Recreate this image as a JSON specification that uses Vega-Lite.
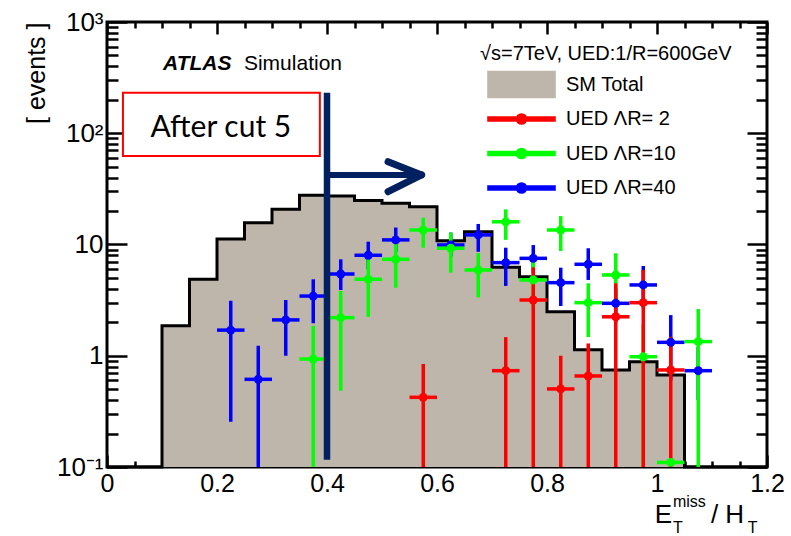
{
  "$schema": "https://vega.github.io/schema/vega-lite/v6.json",
  "width": 660,
  "height": 445,
  "autosize": {"type": "none"},
  "padding": {"left": 107, "top": 22, "right": 24, "bottom": 69},
  "background": "white",
  "config": {
    "view": {"stroke": "black", "strokeWidth": 3},
    "font": "Liberation Sans",
    "axis": {
      "grid": false,
      "domain": false,
      "tickColor": "black",
      "tickWidth": 2.5,
      "labelFont": "Liberation Sans",
      "labelFontSize": 25,
      "labelColor": "black",
      "labelFlush": false,
      "labelOverlap": false
    }
  },
  "datasets": {
    "hist": [
      {"lo": 0, "n": 0.1}, {"lo": 0.05, "n": 0.1},
      {"lo": 0.1, "n": 1.86}, {"lo": 0.15, "n": 4.87}, {"lo": 0.2, "n": 11.2},
      {"lo": 0.25, "n": 15.7}, {"lo": 0.3, "n": 20.7}, {"lo": 0.35, "n": 27.7},
      {"lo": 0.4, "n": 27.3}, {"lo": 0.45, "n": 24.8}, {"lo": 0.5, "n": 23.5},
      {"lo": 0.55, "n": 21.9}, {"lo": 0.6, "n": 10.8}, {"lo": 0.65, "n": 13.0},
      {"lo": 0.7, "n": 6.24}, {"lo": 0.75, "n": 5.14}, {"lo": 0.8, "n": 2.49},
      {"lo": 0.85, "n": 1.13}, {"lo": 0.9, "n": 0.745}, {"lo": 0.95, "n": 0.885},
      {"lo": 1.0, "n": 0.671}, {"lo": 1.05, "n": 0.1}, {"lo": 1.1, "n": 0.1},
      {"lo": 1.15, "n": 0.1}, {"lo": 1.2, "n": 0.1}
    ],
    "ued": [
      {"s": "UED ΛR=40", "x": 0.225, "lo": 0.2, "hi": 0.25, "n": 1.7, "elo": 0.255, "ehi": 3.12},
      {"s": "UED ΛR=40", "x": 0.275, "lo": 0.25, "hi": 0.3, "n": 0.614, "elo": 0.1, "ehi": 1.23},
      {"s": "UED ΛR=40", "x": 0.325, "lo": 0.3, "hi": 0.35, "n": 2.1, "elo": 1.0, "ehi": 3.17},
      {"s": "UED ΛR=40", "x": 0.375, "lo": 0.35, "hi": 0.4, "n": 3.44, "elo": 1.96, "ehi": 4.87},
      {"s": "UED ΛR=40", "x": 0.425, "lo": 0.4, "hi": 0.45, "n": 5.43, "elo": 3.9, "ehi": 7.36},
      {"s": "UED ΛR=40", "x": 0.475, "lo": 0.45, "hi": 0.5, "n": 8.0, "elo": 6.0, "ehi": 10.6},
      {"s": "UED ΛR=40", "x": 0.525, "lo": 0.5, "hi": 0.55, "n": 11.0, "elo": 8.6, "ehi": 14.2},
      {"s": "UED ΛR=40", "x": 0.625, "lo": 0.6, "hi": 0.65, "n": 9.9, "elo": 7.8, "ehi": 12.8},
      {"s": "UED ΛR=40", "x": 0.675, "lo": 0.65, "hi": 0.7, "n": 12.2, "elo": 8.6, "ehi": 15.3},
      {"s": "UED ΛR=40", "x": 0.725, "lo": 0.7, "hi": 0.75, "n": 6.87, "elo": 4.24, "ehi": 9.36},
      {"s": "UED ΛR=40", "x": 0.775, "lo": 0.75, "hi": 0.8, "n": 7.51, "elo": 5.5, "ehi": 9.89},
      {"s": "UED ΛR=40", "x": 0.825, "lo": 0.8, "hi": 0.85, "n": 4.54, "elo": 2.8, "ehi": 6.19},
      {"s": "UED ΛR=40", "x": 0.875, "lo": 0.85, "hi": 0.9, "n": 6.64, "elo": 4.8, "ehi": 9.25},
      {"s": "UED ΛR=40", "x": 0.925, "lo": 0.9, "hi": 0.95, "n": 2.96, "elo": 2.0, "ehi": 4.0},
      {"s": "UED ΛR=40", "x": 0.975, "lo": 0.95, "hi": 1.0, "n": 4.33, "elo": 2.7, "ehi": 6.41},
      {"s": "UED ΛR=40", "x": 1.025, "lo": 1.0, "hi": 1.05, "n": 1.32, "elo": 0.6, "ehi": 2.32},
      {"s": "UED ΛR=40", "x": 1.075, "lo": 1.05, "hi": 1.1, "n": 0.734, "elo": 0.4, "ehi": 1.2},
      {"s": "UED ΛR=10", "x": 0.375, "lo": 0.35, "hi": 0.4, "n": 0.935, "elo": 0.1, "ehi": 1.86},
      {"s": "UED ΛR=10", "x": 0.425, "lo": 0.4, "hi": 0.45, "n": 2.2, "elo": 0.485, "ehi": 3.82},
      {"s": "UED ΛR=10", "x": 0.475, "lo": 0.45, "hi": 0.5, "n": 4.87, "elo": 2.24, "ehi": 7.5},
      {"s": "UED ΛR=10", "x": 0.525, "lo": 0.5, "hi": 0.55, "n": 7.36, "elo": 4.09, "ehi": 10.6},
      {"s": "UED ΛR=10", "x": 0.575, "lo": 0.55, "hi": 0.6, "n": 13.5, "elo": 9.36, "ehi": 17.4},
      {"s": "UED ΛR=10", "x": 0.625, "lo": 0.6, "hi": 0.65, "n": 9.25, "elo": 5.58, "ehi": 12.8},
      {"s": "UED ΛR=10", "x": 0.675, "lo": 0.65, "hi": 0.7, "n": 5.9, "elo": 3.35, "ehi": 8.34},
      {"s": "UED ΛR=10", "x": 0.725, "lo": 0.7, "hi": 0.75, "n": 16.0, "elo": 11.0, "ehi": 20.7},
      {"s": "UED ΛR=10", "x": 0.775, "lo": 0.75, "hi": 0.8, "n": 4.8, "elo": 2.6, "ehi": 7.0},
      {"s": "UED ΛR=10", "x": 0.825, "lo": 0.8, "hi": 0.85, "n": 13.5, "elo": 8.74, "ehi": 18.0},
      {"s": "UED ΛR=10", "x": 0.875, "lo": 0.85, "hi": 0.9, "n": 3.0, "elo": 1.47, "ehi": 4.48},
      {"s": "UED ΛR=10", "x": 0.925, "lo": 0.9, "hi": 0.95, "n": 5.32, "elo": 3.0, "ehi": 8.34},
      {"s": "UED ΛR=10", "x": 0.975, "lo": 0.95, "hi": 1.0, "n": 0.98, "elo": 0.1, "ehi": 1.9},
      {"s": "UED ΛR=10", "x": 1.025, "lo": 1.0, "hi": 1.05, "n": 0.11, "elo": 0.1, "ehi": 0.12},
      {"s": "UED ΛR=10", "x": 1.075, "lo": 1.05, "hi": 1.1, "n": 1.34, "elo": 0.1, "ehi": 2.63},
      {"s": "UED ΛR= 2", "x": 0.575, "lo": 0.55, "hi": 0.6, "n": 0.423, "elo": 0.1, "ehi": 0.843},
      {"s": "UED ΛR= 2", "x": 0.725, "lo": 0.7, "hi": 0.75, "n": 0.734, "elo": 0.1, "ehi": 1.47},
      {"s": "UED ΛR= 2", "x": 0.775, "lo": 0.75, "hi": 0.8, "n": 3.17, "elo": 0.1, "ehi": 6.24},
      {"s": "UED ΛR= 2", "x": 0.825, "lo": 0.8, "hi": 0.85, "n": 0.503, "elo": 0.1, "ehi": 1.0},
      {"s": "UED ΛR= 2", "x": 0.875, "lo": 0.85, "hi": 0.9, "n": 0.658, "elo": 0.1, "ehi": 1.29},
      {"s": "UED ΛR= 2", "x": 0.925, "lo": 0.9, "hi": 0.95, "n": 2.24, "elo": 0.1, "ehi": 4.48},
      {"s": "UED ΛR= 2", "x": 0.975, "lo": 0.95, "hi": 1.0, "n": 3.0, "elo": 0.1, "ehi": 5.9},
      {"s": "UED ΛR= 2", "x": 1.025, "lo": 1.0, "hi": 1.05, "n": 0.745, "elo": 0.1, "ehi": 1.48}
    ]
  },
  "layer": [
    {
      "data": {"name": "hist"},
      "mark": {"type": "area", "interpolate": "step-after", "fill": "#beb5ab", "opacity": 1},
      "encoding": {
        "x": {
          "field": "lo", "type": "quantitative",
          "scale": {"domain": [0, 1.2], "nice": false, "zero": false},
          "axis": {
            "orient": "bottom", "title": null,
            "values": [0,0.05,0.1,0.15,0.2,0.25,0.3,0.35,0.4,0.45,0.5,0.55,0.6,0.65,0.7,0.75,0.8,0.85,0.9,0.95,1,1.05,1.1,1.15,1.2],
            "labelExpr": "abs(datum.value*5 - round(datum.value*5)) < 0.001 ? format(datum.value, '~g') : ''",
            "tickSize": {"condition": {"test": "abs(datum.value*5 - round(datum.value*5)) < 0.001", "value": -12}, "value": -6},
            "labelFontSize": 25,
            "labelAlign": "center",
            "labelBaseline": "top",
            "labelPadding": 16
          }
        },
        "y": {
          "field": "n", "type": "quantitative",
          "scale": {"type": "log", "domain": [0.1, 1000], "nice": false},
          "axis": {
            "orient": "left",
            "values": [0.1,0.2,0.3,0.4,0.5,0.6,0.7,0.8,0.9,1,2,3,4,5,6,7,8,9,10,20,30,40,50,60,70,80,90,100,200,300,400,500,600,700,800,900,1000],
            "labelExpr": "datum.value == 1000 ? '10³' : datum.value == 100 ? '10²' : datum.value == 10 ? '10' : datum.value == 1 ? '1' : datum.value == 0.1 ? '10⁻¹' : ''",
            "tickSize": {"condition": {"test": "abs(log(datum.value)/LN10 - round(log(datum.value)/LN10)) < 0.001", "value": -20}, "value": -11},
            "labelFontSize": 26,
            "labelAlign": "right",
            "labelBaseline": "middle",
            "labelPadding": 24,
            "title": "[ events ]",
            "titleFont": "Liberation Sans",
            "titleFontSize": 25,
            "titleFontWeight": "normal",
            "titleColor": "black",
            "titleAngle": 270,
            "titleAlign": "right",
            "titleBaseline": "alphabetic",
            "titleX": -63,
            "titleY": 0
          }
        },
        "y2": {"datum": 0.1}
      }
    },
    {
      "data": {"name": "hist"},
      "mark": {"type": "line", "interpolate": "step-after", "color": "black", "strokeWidth": 3},
      "encoding": {
        "x": {
          "field": "lo", "type": "quantitative",
          "scale": {"domain": [0, 1.2], "nice": false, "zero": false},
          "axis": {
            "orient": "top", "title": null, "labels": false,
            "values": [0,0.05,0.1,0.15,0.2,0.25,0.3,0.35,0.4,0.45,0.5,0.55,0.6,0.65,0.7,0.75,0.8,0.85,0.9,0.95,1,1.05,1.1,1.15,1.2],
            "tickSize": {"condition": {"test": "abs(datum.value*5 - round(datum.value*5)) < 0.001", "value": -12}, "value": -6}
          }
        },
        "y": {
          "field": "n", "type": "quantitative",
          "scale": {"type": "log", "domain": [0.1, 1000], "nice": false},
          "axis": {
            "orient": "right", "title": null, "labels": false,
            "values": [0.1,0.2,0.3,0.4,0.5,0.6,0.7,0.8,0.9,1,2,3,4,5,6,7,8,9,10,20,30,40,50,60,70,80,90,100,200,300,400,500,600,700,800,900,1000],
            "tickSize": {"condition": {"test": "abs(log(datum.value)/LN10 - round(log(datum.value)/LN10)) < 0.001", "value": -20}, "value": -11}
          }
        }
      }
    },
    {
      "data": {"name": "ued"},
      "encoding": {
        "color": {
          "field": "s", "type": "nominal",
          "scale": {
            "domain": ["SM Total", "UED ΛR= 2", "UED ΛR=10", "UED ΛR=40"],
            "range": ["#beb5ab", "#ff0000", "#00ff00", "#0000ff"]
          },
          "legend": {
            "title": "√s=7TeV, UED:1/R=600GeV",
            "orient": "none",
            "legendX": 373,
            "legendY": 22,
            "padding": 0,
            "titleFont": "Liberation Sans",
            "titleFontSize": 20,
            "titleFontWeight": "normal",
            "titleColor": "black",
            "titleLimit": 500,
            "titlePadding": 5,
            "labelFont": "Liberation Sans",
            "labelFontSize": 20,
            "labelColor": "black",
            "labelLimit": 300,
            "symbolSize": 784,
            "symbolOffset": 26,
            "labelOffset": 29,
            "rowPadding": -0.5,
            "symbolOpacity": 1,
            "encode": {
              "symbols": {
                "update": {
                  "shape": {"signal": "datum.value === 'SM Total' ? 'M-2.36,-0.89H2.36V0.89H-2.36Z' : 'M0,-0.89L0,-0.89M0,0.89L0,0.89M-2.36,-0.11H2.36V0.11H-2.36ZM-0.33,0A0.33,0.33 0 1,1 0.33,0A0.33,0.33 0 1,1 -0.33,0Z'"},
                  "fill": {"scale": "color", "field": "value"},
                  "stroke": {"signal": "datum.value === 'SM Total' ? 'black' : 'transparent'"},
                  "strokeWidth": {"value": 2.5},
                  "opacity": {"value": 1}
                }
              }
            }
          }
        }
      },
      "layer": [
        {
          "mark": {"type": "rule", "strokeWidth": 3.5},
          "encoding": {
            "x": {"field": "x", "type": "quantitative", "scale": {"domain": [0, 1.2], "nice": false, "zero": false}, "axis": null},
            "y": {"field": "elo", "type": "quantitative", "scale": {"type": "log", "domain": [0.1, 1000], "nice": false}, "axis": null},
            "y2": {"field": "ehi"}
          }
        },
        {
          "mark": {"type": "rule", "strokeWidth": 3.5},
          "encoding": {
            "x": {"field": "lo", "type": "quantitative", "scale": {"domain": [0, 1.2], "nice": false, "zero": false}, "axis": null},
            "x2": {"field": "hi"},
            "y": {"field": "n", "type": "quantitative", "scale": {"type": "log", "domain": [0.1, 1000], "nice": false}, "axis": null}
          }
        },
        {
          "mark": {"type": "point", "shape": "circle", "filled": true, "size": 80, "opacity": 1},
          "encoding": {
            "x": {"field": "x", "type": "quantitative", "scale": {"domain": [0, 1.2], "nice": false, "zero": false}, "axis": null},
            "y": {"field": "n", "type": "quantitative", "scale": {"type": "log", "domain": [0.1, 1000], "nice": false}, "axis": null}
          }
        }
      ]
    },
    {
      "data": {"values": [{}]},
      "mark": {"type": "rect", "fill": "white", "stroke": "#ff0000", "strokeWidth": 2},
      "encoding": {
        "x": {"datum": 0.029, "type": "quantitative", "scale": {"domain": [0, 1.2], "nice": false, "zero": false}, "axis": null},
        "x2": {"datum": 0.387},
        "y": {"datum": 231, "type": "quantitative", "scale": {"type": "log", "domain": [0.1, 1000], "nice": false}, "axis": null},
        "y2": {"datum": 62.5}
      }
    },
    {
      "data": {"values": [{}]},
      "mark": {"type": "text", "text": "After cut 5", "font": "Lato", "fontSize": 30, "align": "center", "baseline": "alphabetic", "color": "black"},
      "encoding": {
        "x": {"datum": 0.207, "type": "quantitative", "scale": {"domain": [0, 1.2], "nice": false, "zero": false}, "axis": null},
        "y": {"datum": 93, "type": "quantitative", "scale": {"type": "log", "domain": [0.1, 1000], "nice": false}, "axis": null}
      }
    },
    {
      "data": {"values": [{}]},
      "mark": {"type": "rule", "color": "#002060", "strokeWidth": 6.5},
      "encoding": {
        "x": {"datum": 0.4, "type": "quantitative", "scale": {"domain": [0, 1.2], "nice": false, "zero": false}, "axis": null},
        "y": {"datum": 231, "type": "quantitative", "scale": {"type": "log", "domain": [0.1, 1000], "nice": false}, "axis": null},
        "y2": {"datum": 0.116}
      }
    },
    {
      "data": {"values": [{}]},
      "mark": {"type": "rule", "color": "#002060", "strokeWidth": 6},
      "encoding": {
        "x": {"datum": 0.4, "type": "quantitative", "scale": {"domain": [0, 1.2], "nice": false, "zero": false}, "axis": null},
        "x2": {"datum": 0.57},
        "y": {"datum": 42.2, "type": "quantitative", "scale": {"type": "log", "domain": [0.1, 1000], "nice": false}, "axis": null}
      }
    },
    {
      "data": {"values": [{}]},
      "mark": {"type": "rule", "color": "#002060", "strokeWidth": 7, "strokeCap": "round"},
      "encoding": {
        "x": {"datum": 0.511, "type": "quantitative", "scale": {"domain": [0, 1.2], "nice": false, "zero": false}, "axis": null},
        "x2": {"datum": 0.572},
        "y": {"datum": 55.5, "type": "quantitative", "scale": {"type": "log", "domain": [0.1, 1000], "nice": false}, "axis": null},
        "y2": {"datum": 42.2}
      }
    },
    {
      "data": {"values": [{}]},
      "mark": {"type": "rule", "color": "#002060", "strokeWidth": 7, "strokeCap": "round"},
      "encoding": {
        "x": {"datum": 0.511, "type": "quantitative", "scale": {"domain": [0, 1.2], "nice": false, "zero": false}, "axis": null},
        "x2": {"datum": 0.572},
        "y": {"datum": 29.8, "type": "quantitative", "scale": {"type": "log", "domain": [0.1, 1000], "nice": false}, "axis": null},
        "y2": {"datum": 42.2}
      }
    },
    {
      "data": {"values": [{}]},
      "mark": {"type": "text", "text": "ATLAS", "font": "Liberation Sans", "fontSize": 21, "fontWeight": "bold", "fontStyle": "italic", "align": "left", "baseline": "alphabetic", "color": "black"},
      "encoding": {
        "x": {"datum": 0.102, "type": "quantitative", "scale": {"domain": [0, 1.2], "nice": false, "zero": false}, "axis": null},
        "y": {"datum": 370, "type": "quantitative", "scale": {"type": "log", "domain": [0.1, 1000], "nice": false}, "axis": null}
      }
    },
    {
      "data": {"values": [{}]},
      "mark": {"type": "text", "text": "Simulation", "font": "Liberation Sans", "fontSize": 21, "align": "left", "baseline": "alphabetic", "color": "black"},
      "encoding": {
        "x": {"datum": 0.249, "type": "quantitative", "scale": {"domain": [0, 1.2], "nice": false, "zero": false}, "axis": null},
        "y": {"datum": 370, "type": "quantitative", "scale": {"type": "log", "domain": [0.1, 1000], "nice": false}, "axis": null}
      }
    },
    {
      "data": {"values": [{}]},
      "mark": {"type": "text", "text": "E", "font": "Liberation Sans", "fontSize": 26, "align": "left", "baseline": "alphabetic", "dy": 56, "color": "black"},
      "encoding": {
        "x": {"datum": 0.996, "type": "quantitative", "scale": {"domain": [0, 1.2], "nice": false, "zero": false}, "axis": null},
        "y": {"datum": 0.1, "type": "quantitative", "scale": {"type": "log", "domain": [0.1, 1000], "nice": false}, "axis": null}
      }
    },
    {
      "data": {"values": [{}]},
      "mark": {"type": "text", "text": "miss", "font": "Liberation Sans", "fontSize": 16, "align": "left", "baseline": "alphabetic", "dy": 40, "color": "black"},
      "encoding": {
        "x": {"datum": 1.029, "type": "quantitative", "scale": {"domain": [0, 1.2], "nice": false, "zero": false}, "axis": null},
        "y": {"datum": 0.1, "type": "quantitative", "scale": {"type": "log", "domain": [0.1, 1000], "nice": false}, "axis": null}
      }
    },
    {
      "data": {"values": [{}]},
      "mark": {"type": "text", "text": "T", "font": "Liberation Sans", "fontSize": 16, "align": "left", "baseline": "alphabetic", "dy": 66, "color": "black"},
      "encoding": {
        "x": {"datum": 1.029, "type": "quantitative", "scale": {"domain": [0, 1.2], "nice": false, "zero": false}, "axis": null},
        "y": {"datum": 0.1, "type": "quantitative", "scale": {"type": "log", "domain": [0.1, 1000], "nice": false}, "axis": null}
      }
    },
    {
      "data": {"values": [{}]},
      "mark": {"type": "text", "text": "/ H", "font": "Liberation Sans", "fontSize": 26, "align": "left", "baseline": "alphabetic", "dy": 56, "color": "black"},
      "encoding": {
        "x": {"datum": 1.098, "type": "quantitative", "scale": {"domain": [0, 1.2], "nice": false, "zero": false}, "axis": null},
        "y": {"datum": 0.1, "type": "quantitative", "scale": {"type": "log", "domain": [0.1, 1000], "nice": false}, "axis": null}
      }
    },
    {
      "data": {"values": [{}]},
      "mark": {"type": "text", "text": "T", "font": "Liberation Sans", "fontSize": 16, "align": "left", "baseline": "alphabetic", "dy": 66, "color": "black"},
      "encoding": {
        "x": {"datum": 1.165, "type": "quantitative", "scale": {"domain": [0, 1.2], "nice": false, "zero": false}, "axis": null},
        "y": {"datum": 0.1, "type": "quantitative", "scale": {"type": "log", "domain": [0.1, 1000], "nice": false}, "axis": null}
      }
    }
  ],
  "resolve": {"axis": {"x": "independent", "y": "independent"}}
}
